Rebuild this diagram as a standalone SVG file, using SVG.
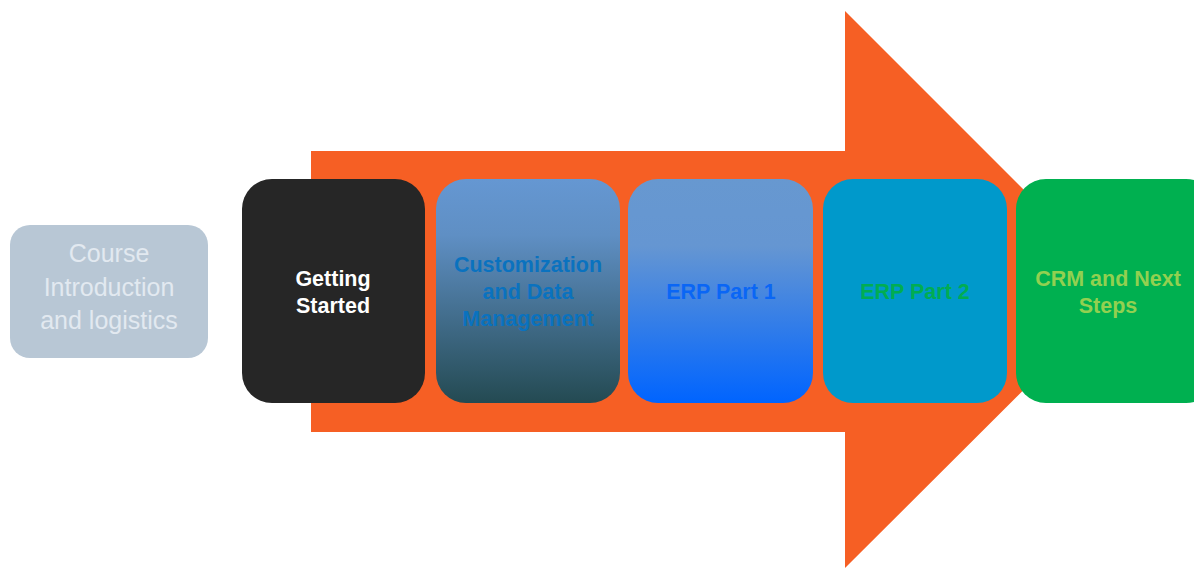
<svg xmlns="http://www.w3.org/2000/svg" width="1194" height="568" viewBox="0 0 1194 568">
<defs>
<linearGradient id="gCust" x1="0" y1="0" x2="0" y2="1">
<stop offset="0" stop-color="#6597d2"/>
<stop offset="0.25" stop-color="#5f8fc4"/>
<stop offset="1" stop-color="#244a52"/>
</linearGradient>
<linearGradient id="gErp1" x1="0" y1="0" x2="0" y2="1">
<stop offset="0" stop-color="#6798d0"/>
<stop offset="0.3" stop-color="#6596d2"/>
<stop offset="1" stop-color="#0064ff"/>
</linearGradient>
<style>
.t{font-family:"Liberation Sans",Arial,sans-serif;text-anchor:middle;}
.b{font-weight:bold;font-size:21.5px;}
</style>
</defs>
<rect width="1194" height="568" fill="#ffffff"/>
<g id="arrow">
<polygon points="311,151 845,151 845,11 1124,290 845,568 845,432 311,432" fill="#f65f24"/>
</g>
<g id="course">
<rect x="10" y="225" width="198" height="133" rx="20" fill="#b8c7d5"/>
<text class="t" font-size="25" fill="#e2e9f0"><tspan x="109" y="262">Course</tspan><tspan x="109" y="296">Introduction</tspan><tspan x="109" y="329">and logistics</tspan></text>
</g>
<g id="getting-started">
<rect x="242" y="179" width="183" height="224" rx="30" fill="#262626"/>
<text class="t b" fill="#ffffff"><tspan x="333" y="286">Getting</tspan><tspan x="333" y="313">Started</tspan></text>
</g>
<g id="customization">
<rect x="436" y="179" width="184" height="224" rx="30" fill="url(#gCust)"/>
<text class="t b" fill="#0a72bf"><tspan x="528" y="272">Customization</tspan><tspan x="528" y="299">and Data</tspan><tspan x="528" y="326">Management</tspan></text>
</g>
<g id="erp1">
<rect x="628" y="179" width="185" height="224" rx="30" fill="url(#gErp1)"/>
<text class="t b" fill="#0a66f5" x="721" y="299">ERP Part 1</text>
</g>
<g id="erp2">
<rect x="823" y="179" width="184" height="224" rx="30" fill="#0099cb"/>
<text class="t b" fill="#00ad52" x="915" y="299">ERP Part 2</text>
</g>
<g id="crm">
<rect x="1016" y="179" width="200" height="224" rx="30" fill="#00b050"/>
<text class="t b" fill="#92d050"><tspan x="1108" y="286">CRM and Next</tspan><tspan x="1108" y="313">Steps</tspan></text>
</g>
<g id="connectors"></g>
</svg>
